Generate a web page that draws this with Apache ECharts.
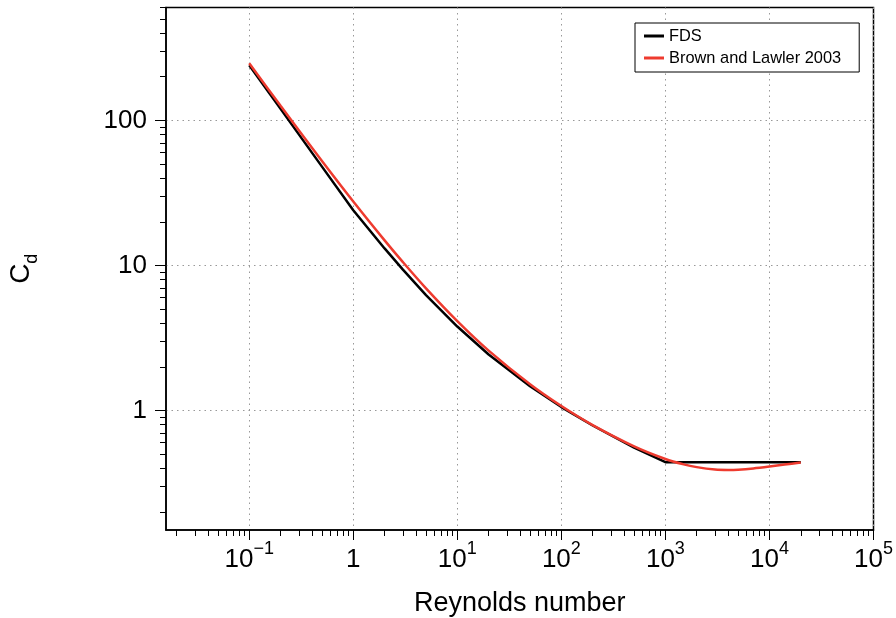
<!DOCTYPE html>
<html>
<head>
<meta charset="utf-8">
<script src="https://cdn.jsdelivr.net/npm/echarts@6/dist/echarts.min.js"></script>
<style>html,body{margin:0;padding:0;background:#fff}#c{width:896px;height:618px}</style>
</head>
<body>
<div id="c"></div>
<script>
// Reynolds number / drag coefficient
const reFDS = [0.1, 0.2, 0.5, 1, 2, 3, 5, 10, 20, 50, 100, 200, 500, 1000, 2000, 5000, 10000, 20000];
const cdFDS = [240, 120, 48, 24, 13.1, 9.35, 6.25, 3.79, 2.43, 1.47, 1.056, 0.788, 0.555, 0.44, 0.44, 0.44, 0.44, 0.44];
const reBL = [0.1, 0.2, 0.5, 1, 2, 3, 5, 10, 20, 50, 100, 200, 500, 1000, 1500, 2000, 3000, 4000, 5000, 7000, 10000, 14000, 20000];
const cdBL = [247.5, 126, 52.5, 27.6, 14.89, 10.54, 6.95, 4.13, 2.585, 1.516, 1.073, 0.793, 0.566, 0.463, 0.425, 0.407, 0.392, 0.3895, 0.391, 0.3985, 0.4106, 0.424, 0.4376];
const seriesNames = ['FDS', 'Brown and Lawler 2003'];
const xMajor = [0.1, 1, 10, 100, 1000, 10000, 100000];
const yMajor = [1, 10, 100];
const xRange = [Math.pow(10, -1.8), 100000];
const yRange = [0.15, 600];

function minorTicks(lo, hi) {
  const out = [];
  for (let e = -3; e <= 6; e++) {
    for (let k = 2; k <= 9; k++) {
      const v = k * Math.pow(10, e);
      if (v >= lo * 0.9999 && v <= hi * 1.0001) out.push(v);
    }
  }
  return out;
}
const FONT = 'Liberation Sans';
function xLabel(v) {
  const e = Math.round(Math.log10(v));
  if (e === 0) return '{b|1}';
  return '{b|10}{s|' + (e < 0 ? '\u2212' + (-e) : e) + '}';
}
const chart = echarts.init(document.getElementById('c'), null, {renderer: 'canvas'});
chart.setOption({
  animation: false,
  backgroundColor: '#fff',
  grid: {left: 166, right: 22.5, top: 7.5, bottom: 88, containLabel: false, outerBoundsMode: 'none',
    show: true, borderColor: '#000', borderWidth: 1.5, backgroundColor: 'transparent'},
  legend: {
    data: seriesNames,
    orient: 'vertical',
    left: 635, top: 23,
    padding: [5, 18, 6, 9],
    itemGap: 6,
    itemWidth: 20, itemHeight: 3,
    icon: 'rect',
    borderColor: '#000', borderWidth: 1,
    backgroundColor: '#fff',
    textStyle: {fontFamily: FONT, fontSize: 16.4, color: '#000'}
  },
  xAxis: [{
    type: 'log', min: xRange[0], max: xRange[1],
    axisLine: {show: true, lineStyle: {color: '#000', width: 1.5}},
    axisTick: {show: true, inside: false, length: 6, customValues: minorTicks(xRange[0], xRange[1]), lineStyle: {color: '#000', width: 1}},
    axisLabel: {show: true, customValues: xMajor, margin: 10, formatter: xLabel,
      rich: {
        b: {fontFamily: FONT, fontSize: 26, color: '#000', lineHeight: 33, verticalAlign: 'bottom'},
        s: {fontFamily: FONT, fontSize: 18, color: '#000', lineHeight: 18, verticalAlign: 'top'}
      }},
    splitLine: {show: false},
    name: 'Reynolds number', nameLocation: 'middle', nameGap: 60,
    nameTextStyle: {fontFamily: FONT, fontSize: 27, color: '#000'}
  }, {
    type: 'log', min: xRange[0], max: xRange[1], position: 'bottom',
    axisLine: {show: false},
    axisTick: {show: true, inside: false, length: 10, customValues: xMajor, lineStyle: {color: '#000', width: 1}},
    axisLabel: {show: false},
    splitLine: {show: true, lineStyle: {color: '#999', width: 1, type: [1.5, 4]}}
  }],
  yAxis: [{
    type: 'log', min: yRange[0], max: yRange[1],
    axisLine: {show: true, lineStyle: {color: '#000', width: 1.5}},
    axisTick: {show: true, inside: false, length: 6, customValues: minorTicks(yRange[0], yRange[1]), lineStyle: {color: '#000', width: 1}},
    axisLabel: {show: true, customValues: yMajor, margin: 19, fontFamily: FONT, fontSize: 26, color: '#000',
      formatter: v => String(Math.round(v))},
    splitLine: {show: false},
    name: '{c|C}{d|d}', nameLocation: 'middle', nameGap: 125, nameRotate: 90,
    nameTextStyle: {rich: {
      c: {fontFamily: FONT, fontSize: 28, color: '#000', lineHeight: 34, verticalAlign: 'top'},
      d: {fontFamily: FONT, fontSize: 18, color: '#000', lineHeight: 18, verticalAlign: 'bottom'}
    }}
  }, {
    type: 'log', min: yRange[0], max: yRange[1], position: 'left', offset: 0,
    axisLine: {show: false},
    axisTick: {show: true, inside: false, length: 11, customValues: yMajor, lineStyle: {color: '#000', width: 1}},
    axisLabel: {show: false},
    splitLine: {show: true, lineStyle: {color: '#999', width: 1, type: [1.5, 4]}}
  }],
  series: [{
    name: seriesNames[0], type: 'line', xAxisIndex: 0, yAxisIndex: 0,
    data: reFDS.map((r, i) => [r, cdFDS[i]]),
    showSymbol: false, symbol: 'none', color: '#000',
    lineStyle: {color: '#000', width: 2.5}
  }, {
    name: seriesNames[1], type: 'line', xAxisIndex: 0, yAxisIndex: 0,
    data: reBL.map((r, i) => [r, cdBL[i]]),
    showSymbol: false, symbol: 'none', color: '#ee3b2f', smooth: 0.3,
    lineStyle: {color: '#ee3b2f', width: 2.5}
  }]
});
</script>
</body>
</html>
